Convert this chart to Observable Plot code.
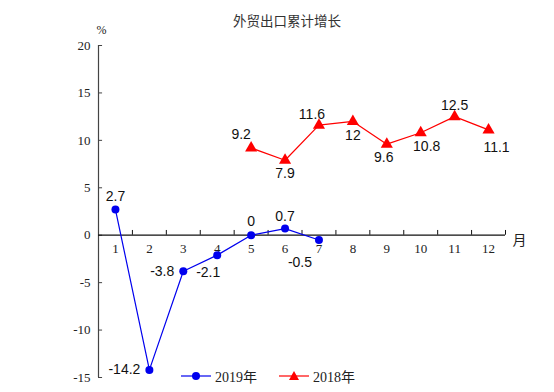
<!DOCTYPE html>
<html><head><meta charset="utf-8">
<script src="https://cdn.jsdelivr.net/npm/d3@7"></script>
<script src="https://cdn.jsdelivr.net/npm/@observablehq/plot@0.6"></script>
<style>
body{margin:0;background:#fff;}
#wrap{position:relative;width:554px;height:392px;overflow:hidden;}
#title{position:absolute;left:10px;width:554px;top:10px;text-align:center;font:13.5px "Noto Sans CJK SC",sans-serif;color:#333;}
#legend{position:absolute;top:366px;left:181px;font:14px "Liberation Serif","Noto Sans CJK SC",serif;color:#222;display:flex;align-items:center;}
#legend span{display:inline-flex;align-items:center;margin-right:22px;}
#legend svg{margin-right:4px;}
</style></head>
<body><div id="wrap"><div id="title"></div><div id="chart"></div><div id="legend"></div></div>
<script>
const title = "外贸出口累计增长";
const months = [1,2,3,4,5,6,7,8,9,10,11,12];
const months2019 = [1,2,3,4,5,6,7];
const values2019 = [2.7,-14.2,-3.8,-2.1,0,0.7,-0.5];
const months2018 = [5,6,7,8,9,10,11,12];
const values2018 = [9.2,7.9,11.6,12,9.6,10.8,12.5,11.1];
const yTicks = [-15,-10,-5,0,5,10,15,20];
const seriesNames = ["2019年","2018年"];
const colors = ["#0000ee","#ff0000"];

// label nudges (pixel styles) for each value label
const nudge2019 = [[0,-13],["L",0],["L",0],[-9,17],[0,-14],[0,-12],[-19,23]];
const nudge2018 = [[-10,-13],[0,13],[-7,-11],[0,14],[-3,13],[6,14],[0,-11],[8,18]];

const d19 = months2019.map((m,i)=>({m, v: values2019[i], n: nudge2019[i]}));
const d18 = months2018.map((m,i)=>({m, v: values2018[i], n: nudge2018[i]}));
const labelFont = {fontSize:14, fontFamily:"Liberation Sans, Arial, sans-serif", fill:"#111"};
const labels = (data) => [
  ...data.filter(d=>d.n[0]!=="L").map(d => Plot.text([d], {x:"m", y:"v", text: d=>String(d.v), dx:d.n[0], dy:d.n[1], ...labelFont})),
  Plot.text(data.filter(d=>d.n[0]==="L"), {x:"m", y:"v", text: d=>String(d.v), dx:-9, textAnchor:"end", ...labelFont})
];

document.getElementById("title").textContent = title;

const chart = Plot.plot({
  width: 554, height: 392,
  marginLeft: 98, marginRight: 49, marginTop: 45, marginBottom: 15,
  x: {domain:[0.5,12.5], axis:null},
  y: {domain:[-15,20], axis:null},
  marks: [
    Plot.ruleX([0.5], {y1:-15, y2:20, stroke:"#444", strokeWidth:1.2}),
    Plot.ruleY(yTicks, {x1:0.5, x2:0.62, stroke:"#444"}),
    Plot.text(yTicks, {x:0.5, y:d=>d, text:d=>String(d), dx:-8, textAnchor:"end", fontSize:13, fontFamily:"Liberation Serif, serif", fill:"#222"}),
    Plot.ruleY([0], {x1:0.5, x2:12.5, stroke:"#111", strokeWidth:1.2}),
    Plot.ruleX(months.map(m=>m+0.5), {y1:0, y2:0.5, stroke:"#111"}),
    Plot.text(months, {x:d=>d, y:0, text:d=>String(d), dy:14, fontSize:13, fontFamily:"Liberation Serif, serif", fill:"#222"}),
    Plot.text(["月"], {x:12.5, y:0, text:d=>d, dx:14, dy:5, fontSize:14, fontFamily:"Noto Sans CJK SC", fill:"#222"}),
    Plot.text(["%"], {x:0.5, y:20, text:d=>d, dy:-15, dx:3, fontSize:12, fontFamily:"Liberation Serif, serif", fill:"#222"}),
    Plot.line(d19, {x:"m", y:"v", stroke:colors[0], strokeWidth:1.2}),
    Plot.dot(d19, {x:"m", y:"v", fill:colors[0], r:4}),
    Plot.line(d18, {x:"m", y:"v", stroke:colors[1], strokeWidth:1.2}),
    Plot.dot(d18, {x:"m", y:"v", fill:colors[1], symbol:"triangle", r:4.5}),
    ...labels(d19),
    ...labels(d18)
  ]
});
document.getElementById("chart").appendChild(chart);

const lg = document.getElementById("legend");
seriesNames.forEach((n,i)=>{
  const s = document.createElement("span");
  const mk = i===0 ? `<circle cx="15" cy="6" r="4" fill="${colors[i]}"/>` : `<path d="M15,1 L20,10 L10,10 Z" fill="${colors[i]}"/>`;
  s.innerHTML = `<svg width="30" height="12"><line x1="0" x2="30" y1="6" y2="6" stroke="${colors[i]}" stroke-width="1.2"/>${mk}</svg>${n}`;
  lg.appendChild(s);
});
</script></body></html>
